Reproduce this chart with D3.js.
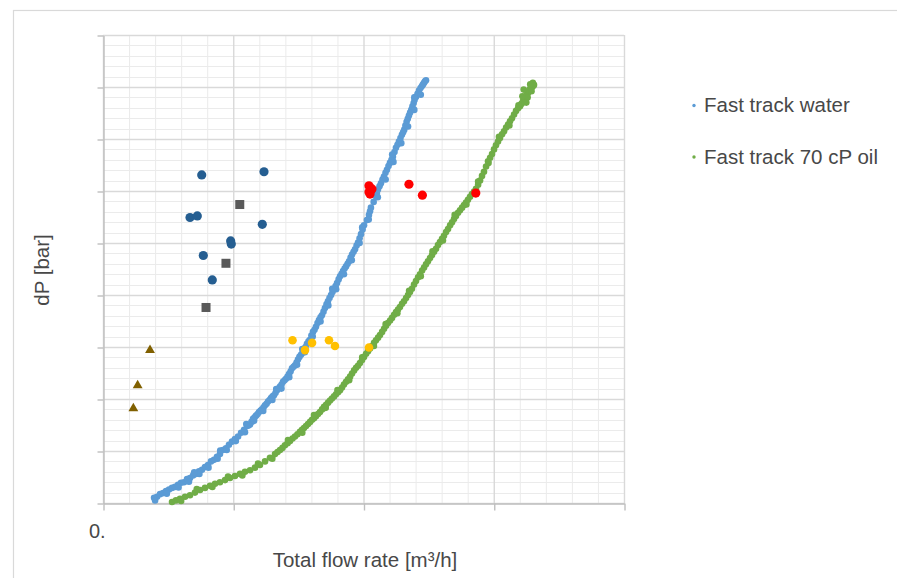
<!DOCTYPE html>
<html>
<head>
<meta charset="utf-8">
<script src="https://cdn.jsdelivr.net/npm/d3@7"></script>
<style>
  body { margin: 0; background: #ffffff; }
  text { font-family: "Liberation Sans", Arial, sans-serif; }
</style>
</head>
<body>
<svg id="chart" width="897" height="578"></svg>
<script>
// ---- data: total flow rate [m3/h] vs dP [bar] ----
const seriesNames = ["Fast track water", "Fast track 70 cP oil"];
const xTickValues = [0, 10, 20, 30, 40];
const xTickLabels = ["0.", "", "", "", ""];
const yTickValues = [0, 1, 2, 3, 4, 5, 6, 7, 8, 9];

const waterPoints = [
  [3.92,0.10],[4.15,0.12],[4.38,0.17],[4.61,0.19],[4.84,0.23],[5.07,0.26],[5.30,0.29],[5.53,0.31],
  [5.76,0.35],[5.99,0.39],[6.22,0.40],[6.45,0.46],[6.68,0.48],[6.91,0.53],[7.14,0.56],[7.37,0.61],
  [7.60,0.64],[7.83,0.69],[8.06,0.73],[8.29,0.80],[8.52,0.83],[8.75,0.89],[8.98,0.94],[9.21,1.02],
  [9.44,1.05],[9.67,1.12],[9.90,1.18],[10.13,1.23],[10.37,1.28],[10.60,1.35],[10.83,1.41],[11.06,1.48],
  [11.29,1.51],[11.52,1.62],[11.75,1.68],[11.98,1.75],[12.21,1.80],[12.44,1.88],[12.67,1.95],[12.90,2.02],
  [13.13,2.07],[13.36,2.17],[13.59,2.24],[13.82,2.33],[14.05,2.39],[14.28,2.48],[14.51,2.59],[14.74,2.65],
  [14.97,2.76],[15.20,2.85],[15.43,2.95],[15.66,3.06],[15.89,3.14],[16.12,3.29],[16.35,3.39],[16.58,3.52],
  [16.81,3.61],[17.04,3.75],[17.27,3.88],[17.51,4.00],[17.74,4.11],[17.97,4.23],[18.20,4.36],[18.43,4.46],
  [18.66,4.55],[18.89,4.65],[19.12,4.78],[19.35,4.88],[19.58,5.01],[19.81,5.17],[20.04,5.34],[20.42,5.54],
  [20.57,5.68],[20.95,5.90],[21.11,6.03],[21.34,6.15],[21.57,6.28],[21.80,6.41],[22.03,6.54],[22.26,6.66],
  [22.49,6.83],[22.72,6.95],[22.95,7.08],[23.13,7.18],[23.31,7.33],[23.49,7.45],[23.67,7.56],[23.85,7.69],
  [24.03,7.81],[24.26,7.93],[24.49,8.02],[24.65,8.08],[24.80,8.13],
  [11.17,1.49],[11.40,1.56],[11.64,1.65],[11.87,1.71],[12.10,1.78],[12.33,1.84],[12.56,1.91],[12.79,1.98],
  [13.02,2.05],[13.25,2.12],[13.48,2.20],[13.71,2.28],[13.94,2.36],[14.17,2.43],[14.40,2.53],[14.63,2.62],
  [14.86,2.70],[15.08,2.81],[15.32,2.89],[15.55,3.00],[15.78,3.11],[16.00,3.22],[16.24,3.33],[16.47,3.46],
  [16.70,3.57],[16.93,3.68],[17.16,3.82],[17.39,3.94],[17.62,4.06],[17.86,4.17],[18.09,4.30],[18.32,4.41],
  [18.55,4.51],[18.78,4.60],[19.01,4.72],[19.24,4.83],[19.47,4.95],[19.70,5.09],[19.93,5.26],[20.26,5.44],
  [20.50,5.61],[20.78,5.79],[21.03,5.96],[21.23,6.09],[21.46,6.22],[21.69,6.35],[21.92,6.48],[22.15,6.60],
  [22.38,6.75],[22.61,6.89],[22.84,7.02],[23.04,7.13],[23.22,7.26],[23.40,7.39],[23.58,7.51],[23.76,7.63],
  [23.92,7.75],[24.15,7.87],[24.38,7.98],[24.57,8.05],[24.72,8.11],
  [4.00,0.05],[4.90,0.18],[5.80,0.30],[6.60,0.41],[7.40,0.56],[8.10,0.68],[8.80,0.85],[9.50,1.02],
  [10.20,1.19],[10.90,1.36],[11.60,1.58],[12.30,1.77],[13.00,1.98],[13.70,2.20],[14.30,2.42],[14.90,2.66],
  [15.50,2.90],[16.10,3.20],[16.70,3.49],[17.30,3.80],[17.90,4.11],[18.50,4.40],[19.10,4.67],[19.70,5.00],
  [20.40,5.45],[21.10,5.88],[21.70,6.22],[22.30,6.56],[22.90,6.92],[23.42,7.24],[23.90,7.56],[24.40,7.85],
  [7.00,0.59],[9.00,1.01],[11.00,1.52],[13.30,2.19],[15.30,2.96],[17.60,4.12],[19.90,5.30],[22.20,6.70],
  [23.90,7.80]
];

const oilPoints = [
  [5.30,0.02],[5.60,0.05],[5.91,0.08],[6.30,0.12],[6.68,0.15],[7.06,0.20],[7.45,0.25],[7.83,0.29],
  [8.22,0.33],[8.60,0.37],[8.98,0.40],[9.37,0.44],[9.75,0.48],[10.13,0.52],[10.52,0.56],[10.90,0.60],
  [11.29,0.63],[11.67,0.68],[12.05,0.73],[12.44,0.80],[12.82,0.87],[13.21,0.94],[13.59,1.02],[13.97,1.11],
  [14.36,1.19],[14.74,1.28],[15.12,1.37],[15.43,1.44],[15.74,1.52],[16.05,1.60],[16.35,1.67],[16.66,1.75],
  [16.97,1.85],[17.28,1.93],[17.58,2.01],[17.89,2.09],[18.20,2.17],[18.50,2.28],[18.81,2.38],[19.12,2.49],
  [19.43,2.60],[19.73,2.69],[20.04,2.81],[20.35,2.92],[20.65,3.02],[20.96,3.13],[21.27,3.23],[21.58,3.35],
  [21.88,3.46],[22.19,3.56],[22.50,3.67],[22.80,3.77],[23.11,3.88],[23.42,4.00],[23.72,4.12],[24.03,4.27],
  [24.34,4.40],[24.65,4.53],[24.95,4.65],[25.26,4.77],[25.57,4.89],[25.87,5.02],[26.18,5.14],[26.49,5.27],
  [26.80,5.40],[27.10,5.52],[27.41,5.63],[27.72,5.73],[28.02,5.83],[28.33,5.94],[28.64,6.04],[28.95,6.20],
  [29.25,6.37],[29.56,6.57],[29.87,6.71],[30.17,6.88],[30.48,7.02],[30.79,7.15],[31.10,7.28],[31.40,7.40],
  [31.71,7.54],[32.02,7.63],[32.25,7.73],[32.48,7.83],[32.63,7.89],[32.79,7.96],[32.94,8.00],[33.09,8.04],
  [13.40,0.98],[13.78,1.06],[14.17,1.15],[14.55,1.24],[14.93,1.32],[15.28,1.41],[15.59,1.48],[15.90,1.56],
  [16.20,1.63],[16.51,1.71],[16.82,1.80],[17.13,1.89],[17.43,1.97],[17.74,2.05],[18.05,2.13],[18.35,2.22],
  [18.66,2.33],[18.97,2.43],[19.28,2.55],[19.58,2.64],[19.89,2.75],[20.20,2.87],[20.50,2.97],[20.81,3.08],
  [21.12,3.18],[21.43,3.29],[21.73,3.41],[22.04,3.51],[22.35,3.62],[22.65,3.72],[22.96,3.83],[23.27,3.94],
  [23.57,4.06],[23.88,4.20],[24.19,4.34],[24.50,4.47],[24.80,4.59],[25.11,4.71],[25.42,4.83],[25.72,4.96],
  [26.03,5.08],[26.34,5.21],[26.65,5.34],[26.95,5.46],[27.26,5.58],[27.57,5.68],[27.87,5.78],[28.18,5.89],
  [28.49,5.99],[28.80,6.12],[29.10,6.29],[29.41,6.47],[29.72,6.64],[30.02,6.80],[30.33,6.95],[30.64,7.09],
  [30.95,7.22],[31.25,7.34],[31.56,7.47],[31.87,7.59],[32.14,7.68],[32.37,7.78],[32.56,7.86],[32.71,7.93],
  [32.87,7.98],[33.02,8.02],
  [6.00,0.04],[7.20,0.27],[8.40,0.31],[9.60,0.51],[10.70,0.53],[11.90,0.76],[13.00,0.85],[14.20,1.21],
  [15.30,1.35],[16.20,1.69],[17.10,1.83],[18.00,2.17],[18.90,2.36],[19.90,2.80],[20.80,3.02],[21.70,3.44],
  [22.60,3.65],[23.50,4.08],[24.40,4.36],[25.30,4.84],[26.10,5.05],[27.00,5.54],[27.90,5.74],[28.80,6.18],
  [29.60,6.54],[30.40,7.04],[31.20,7.26],[31.90,7.65],[32.60,7.80],
  [32.30,7.95],[32.90,7.92],[32.50,7.70],[33.00,8.08],[32.20,7.82],[32.80,8.05]
];

const navyPoints = [
  [7.58,6.31],[12.36,6.37],[6.68,5.49],[7.24,5.52],[9.80,5.04],[9.85,4.98],[12.23,5.36],[7.70,4.76],[8.39,4.29]
];
const greySquares = [[10.50,5.74],[9.44,4.61],[7.91,3.76]];
const goldPoints = [[14.55,3.13],[15.51,2.94],[16.05,3.08],[17.35,3.13],[17.81,3.02],[20.42,2.99]];
const redPoints = [
  [20.42,6.10],[20.58,6.02],[20.50,5.94],[20.65,6.04],[20.42,5.98],[23.49,6.13],[24.52,5.92],[28.62,5.96]
];
const brownTriangles = [[3.61,2.94],[2.66,2.26],[2.33,1.82]];

// ---- drawing ----
const svg = d3.select("#chart");
const x = d3.scaleLinear().domain([0, 40]).range([103, 624]);
const y = d3.scaleLinear().domain([0, 9]).range([503, 35]);
const textColor = "#484848";

// outer chart border
svg.append("rect")
  .attr("x", 13.5).attr("y", 10.5).attr("width", 900).attr("height", 620)
  .attr("fill", "#ffffff").attr("stroke", "#d9d9d9").attr("stroke-width", 1.2);

const grid = svg.append("g");
// minor grid
grid.selectAll(".vminor").data(d3.range(0, 40.001, 2).filter(v => v % 10 !== 0))
  .join("line")
  .attr("x1", d => x(d) + 0.5).attr("x2", d => x(d) + 0.5)
  .attr("y1", y(9)).attr("y2", y(0))
  .attr("stroke", "#ebebeb").attr("stroke-width", 1);
grid.selectAll(".hminor").data(d3.range(0, 45).map(i => i * 0.2).filter((v, i) => i % 5 !== 0))
  .join("line")
  .attr("x1", x(0)).attr("x2", x(40))
  .attr("y1", d => Math.round(y(d)) + 0.5).attr("y2", d => Math.round(y(d)) + 0.5)
  .attr("stroke", "#ebebeb").attr("stroke-width", 1);
// major grid
grid.selectAll(".vmajor").data(xTickValues)
  .join("line")
  .attr("x1", d => x(d) + 0.5).attr("x2", d => x(d) + 0.5)
  .attr("y1", y(9)).attr("y2", y(0))
  .attr("stroke", "#d9d9d9").attr("stroke-width", 1.4);
grid.selectAll(".hmajor").data(yTickValues)
  .join("line")
  .attr("x1", x(0)).attr("x2", x(40))
  .attr("y1", d => Math.round(y(d)) + 0.5).attr("y2", d => Math.round(y(d)) + 0.5)
  .attr("stroke", "#d9d9d9").attr("stroke-width", 1.4);

// axes
const xAxis = d3.axisBottom(x).tickValues(xTickValues).tickSize(7).tickSizeOuter(0)
  .tickFormat((d, i) => xTickLabels[i]);
const gx = svg.append("g").attr("transform", `translate(0.5,${y(0) + 0.5})`).call(xAxis);
const yAxis = d3.axisLeft(y).tickValues(yTickValues).tickSize(6).tickSizeOuter(0).tickFormat("");
const gy = svg.append("g").attr("transform", `translate(${x(0) + 0.5},0.5)`).call(yAxis);
[gx, gy].forEach(g => {
  g.select(".domain").attr("stroke", "#bfbfbf").attr("stroke-width", 1.4);
  g.selectAll(".tick line").attr("stroke", "#bfbfbf").attr("stroke-width", 1.4);
});
gx.selectAll(".tick text")
  .attr("font-size", 20).attr("fill", textColor)
  .attr("text-anchor", "start").attr("x", -15).attr("dy", 0).attr("y", 34);

// curve point clouds
const plot = svg.append("g");
plot.selectAll(".oil").data(oilPoints).join("circle")
  .attr("cx", d => x(d[0])).attr("cy", d => y(d[1])).attr("r", 3.3)
  .attr("fill", "#70ad47");
plot.selectAll(".water").data(waterPoints).join("circle")
  .attr("cx", d => x(d[0])).attr("cy", d => y(d[1])).attr("r", 3.3)
  .attr("fill", "#5b9bd5");

// individual test points
plot.selectAll(".navy").data(navyPoints).join("circle")
  .attr("cx", d => x(d[0])).attr("cy", d => y(d[1])).attr("r", 4.6)
  .attr("fill", "#255e91");
plot.selectAll(".sq").data(greySquares).join("rect")
  .attr("x", d => x(d[0]) - 4.5).attr("y", d => y(d[1]) - 4.5)
  .attr("width", 9).attr("height", 9).attr("fill", "#595959");
plot.selectAll(".gold").data(goldPoints).join("circle")
  .attr("cx", d => x(d[0])).attr("cy", d => y(d[1])).attr("r", 4.3)
  .attr("fill", "#ffc000");
plot.selectAll(".red").data(redPoints).join("circle")
  .attr("cx", d => x(d[0])).attr("cy", d => y(d[1])).attr("r", 4.6)
  .attr("fill", "#ff0000");
const tri = d3.symbol().type(d3.symbolTriangle).size(42);
plot.selectAll(".tri").data(brownTriangles).join("path")
  .attr("d", tri)
  .attr("transform", d => `translate(${x(d[0])},${y(d[1])})`)
  .attr("fill", "#806000");

// axis titles
svg.append("text")
  .attr("x", 365).attr("y", 567)
  .attr("text-anchor", "middle").attr("font-size", 20.5).attr("fill", textColor)
  .text("Total flow rate [m³/h]");
svg.append("text")
  .attr("transform", "translate(49,270) rotate(-90)")
  .attr("text-anchor", "middle").attr("font-size", 20.5).attr("fill", textColor)
  .text("dP [bar]");

// legend
const legendColors = ["#5b9bd5", "#70ad47"];
const legend = svg.append("g");
seriesNames.forEach((name, i) => {
  const yy = 112 + i * 51.5;
  legend.append("circle").attr("cx", 694).attr("cy", yy - 6.5).attr("r", 1.7)
    .attr("fill", legendColors[i]);
  legend.append("text").attr("x", 704).attr("y", yy)
    .attr("font-size", 20.5).attr("fill", textColor).text(name);
});
</script>
</body>
</html>
